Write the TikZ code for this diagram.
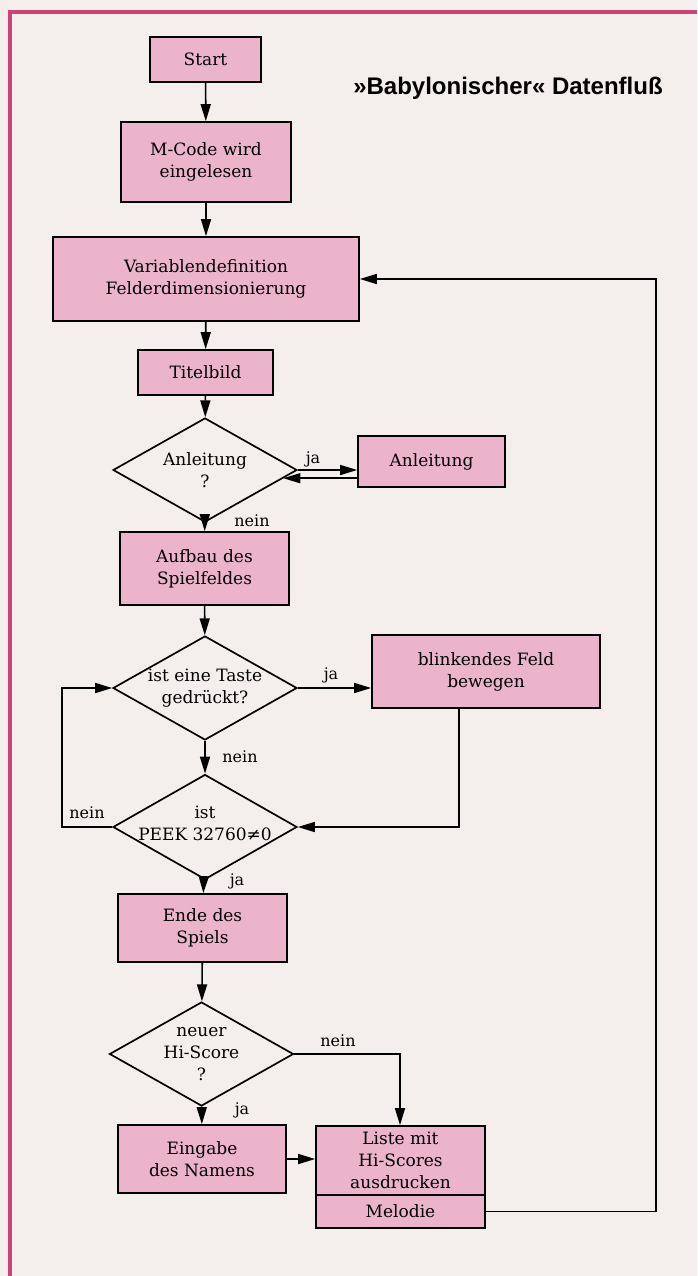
\documentclass[tikz,border=0pt]{standalone}
\usepackage{fontspec}
\setmainfont{DejaVu Serif}
\newfontfamily\titlefont{Liberation Sans}
\usetikzlibrary{shapes.geometric,arrows.meta}

\definecolor{paper}{HTML}{F4EEED}
\definecolor{boxpink}{HTML}{EBB4CA}
\definecolor{framerule}{HTML}{CC4477}

\begin{document}
\begin{tikzpicture}[x=1pt,y=-1pt,
  font=\fontsize{17}{22}\selectfont,
  box/.style={draw=black, line width=1.7pt, fill=boxpink, align=center, inner sep=0pt},
  dia/.style={draw=black, line width=1.7pt, fill=paper, shape=diamond, inner sep=0pt,
              minimum width=184, minimum height=104},
  dtext/.style={align=center, inner sep=0pt},
  lbl/.style={inner sep=0pt, font=\fontsize{16}{18}\selectfont},
  arr/.style={line width=1.6pt, -{Triangle[length=17pt,width=10pt]}},
  ln/.style={line width=1.6pt}]

% page and frame
\fill[paper] (0,0) rectangle (697,1276);
\useasboundingbox (0,0) rectangle (697,1276);
\draw[framerule, line width=4pt] (10,1276) -- (10,12) -- (697,12);

% title
\node[inner sep=0pt, font=\titlefont\bfseries\fontsize{24}{26}\selectfont] (title) at (508,88) {»Babylonischer« Datenfluß};

% process boxes
\node[box, minimum width=111, minimum height=45] (start) at (205.5,59.5) {Start};
\node[box, minimum width=170, minimum height=80] (mcode) at (206,162) {M-Code wird\\eingelesen};
\node[box, minimum width=306, minimum height=84] (var) at (206,279) {Variablendefinition\\Felderdimensionierung};
\node[box, minimum width=135, minimum height=45] (titel) at (205.5,372.5) {Titelbild};
\node[box, minimum width=147, minimum height=51] (anl) at (431.5,461.5) {Anleitung};
\node[box, minimum width=169, minimum height=73] (aufbau) at (204.5,568.5) {Aufbau des\\Spielfeldes};
\node[box, minimum width=228, minimum height=73] (blink) at (486,671.5) {blinkendes Feld\\bewegen};
\node[box, minimum width=169, minimum height=68] (ende) at (202.5,928) {Ende des\\Spiels};
\node[box, minimum width=168, minimum height=68] (eingabe) at (202,1159) {Eingabe\\des Namens};
\node[box, minimum width=169, minimum height=69] (liste) at (400.5,1160.5) {Liste mit\\Hi-Scores\\ausdrucken};
\node[box, minimum width=169, minimum height=33] (melodie) at (400.5,1211.5) {Melodie};

% decisions
\node[dia, label={[dtext]center:Anleitung\\?}] (d1) at (205,470) {};
\node[dia, label={[dtext]center:ist eine Taste\\gedrückt?}] (d2) at (205,688) {};
\node[dia, minimum height=105, label={[dtext, yshift=4pt]center:ist\\PEEK 32760≠0}] (d3) at (205,827) {};
\node[dia, label={[dtext]center:neuer\\Hi-Score\\?}] (d4) at (201.5,1054) {};

% helper points for the return lines
\coordinate (leftrail) at (62,0);
\coordinate (rightrail) at (656,0);
\coordinate (drop) at (400,0);
\coordinate (blinkdrop) at (459,0);

% main flow
\draw[arr] (start) -- (mcode);
\draw[arr] (mcode) -- (var);
\draw[arr] (var) -- (titel);
\draw[arr] (titel) -- (d1);
\draw[arr] (d1.east) -- (d1.east -| anl.west);
\draw[arr] (d1.-6.75 -| anl.west) -- (d1.-6.75);
\draw[arr] (d1) -- (aufbau);
\draw[arr] (aufbau) -- (d2);
\draw[arr] (d2.east) -- (d2.east -| blink.west);
\draw[arr] (d2) -- (d3);
\draw[arr] (blink.south -| blinkdrop) |- (d3.east);
\draw[arr] (d3.west) -- (d3.west -| leftrail) |- (d2.west);
\draw[arr] (d3) -- (ende);
\draw[arr] (ende) -- (d4);
\draw[arr] (d4) -- (eingabe);
\draw[arr] (d4.east) -| (liste.north -| drop);
\draw[arr] (eingabe.east) -- (eingabe.east -| liste.west);
\draw[arr] (melodie.east) -- (melodie.east -| rightrail) |- (var.east);

% branch labels
\node[lbl] (l1) at (313,459) {ja};
\node[lbl] (l2) at (252,521) {nein};
\node[lbl] (l3) at (331,675) {ja};
\node[lbl] (l4) at (240,757) {nein};
\node[lbl] (l5) at (87,813) {nein};
\node[lbl] (l6) at (237,881) {ja};
\node[lbl] (l7) at (338,1041) {nein};
\node[lbl] (l8) at (242,1110) {ja};
\end{tikzpicture}
\end{document}
